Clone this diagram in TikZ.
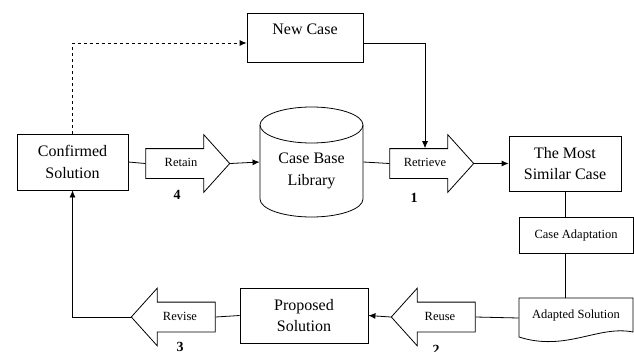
\documentclass[tikz,border=0pt]{standalone}
\usepackage{fontspec}
\setmainfont{Liberation Serif}
\usetikzlibrary{arrows.meta, shapes.arrows, positioning}

\tikzset{
  box/.style={draw, align=center, font=\fontsize{16}{21.5}\selectfont},
  small/.style={font=\fontsize{12.5}{14}\selectfont},
  blockarrow/.style={single arrow, draw, small, single arrow head extend=14pt,
    single arrow tip angle=96, text height=8pt, text depth=2pt,
    inner ysep=9.5pt, inner xsep=2pt, minimum height=84pt},
  stepnum/.style={font=\bfseries\fontsize{14}{16}\selectfont},
  conn/.style={-{Latex[length=7pt,width=6pt]}},
}

\begin{document}
\begin{tikzpicture}[x=1pt,y=-1pt,line width=0.8pt]
\useasboundingbox (0,0) rectangle (634,351);

% boxes
\node[box, minimum width=116pt, minimum height=49pt, text height=11pt, text depth=17pt] (newcase) at (305,37.5) {New Case};
\node[box, minimum width=111pt, minimum height=56pt] (conf) at (72.5,162) {Confirmed\\Solution};
\node[box, minimum width=112pt, minimum height=55pt] (similar) at (565,163.5) {The Most\\Similar Case};
\node[box, small, minimum width=114pt, minimum height=36pt] (adaptation) at (576,235) {Case Adaptation};
\node[box, minimum width=128pt, minimum height=55pt] (proposed) at (304,315.5) {Proposed\\Solution};

% case base (cylinder)
\node[minimum width=103pt, minimum height=110pt] (library) at (311.5,162) {};
\draw (260,125) -- (260,199) arc[start angle=180, end angle=360, x radius=51.5pt, y radius=18pt] -- (363,125);
\draw (311.5,125) ellipse[x radius=51.5pt, y radius=18pt];
\node[align=center, font=\fontsize{16}{21.5}\selectfont] (libtext) at (311.5,171) {Case Base\\Library};

% adapted solution (document)
\node[small, minimum width=114pt, minimum height=40pt, text height=9pt, text depth=8pt] (adapted) at (576,318) {Adapted Solution};
\draw (519,298) -- (633,298) -- (633,332) .. controls (598,325) and (566,352) .. (519,337) -- cycle;

% the four steps
\node[blockarrow] (retain) at (181,163.5) {Retain};
\node[blockarrow] (retrieve) at (425,163.5) {Retrieve};
\node[blockarrow, shape border rotate=180] (reuse) at (440,317) {Reuse};
\node[blockarrow, shape border rotate=180] (revise) at (180,317) {Revise};

\node[stepnum] (n1) at (414,197.5) {1};
\node[stepnum] (n2) at (436,350) {2};
\node[stepnum] (n3) at (180,347) {3};
\node[stepnum] (n4) at (177,194.5) {4};

% connectors
\draw[dashed, conn] (conf.north) |- ([yshift=-5.5pt]newcase.west);
\draw[conn] ([yshift=-5.5pt]newcase.east) -| (retrieve.north);
\draw (conf.east) -- (retain.tail);
\draw[conn] (retain.tip) -- (library.west);
\draw (library.east) -- (retrieve.tail);
\draw[conn] (retrieve.tip) -- (similar.west);
\draw (similar.south) -- (similar.south |- adaptation.north);
\draw (similar.south |- adaptation.south) -- (similar.south |- adapted.north);
\draw (adapted.west) -- (reuse.tail);
\draw[conn] (reuse.tip) -- (proposed.east);
\draw (proposed.west) -- (revise.tail);
\draw[conn] (revise.tip) -| (conf.south);
\end{tikzpicture}
\end{document}
